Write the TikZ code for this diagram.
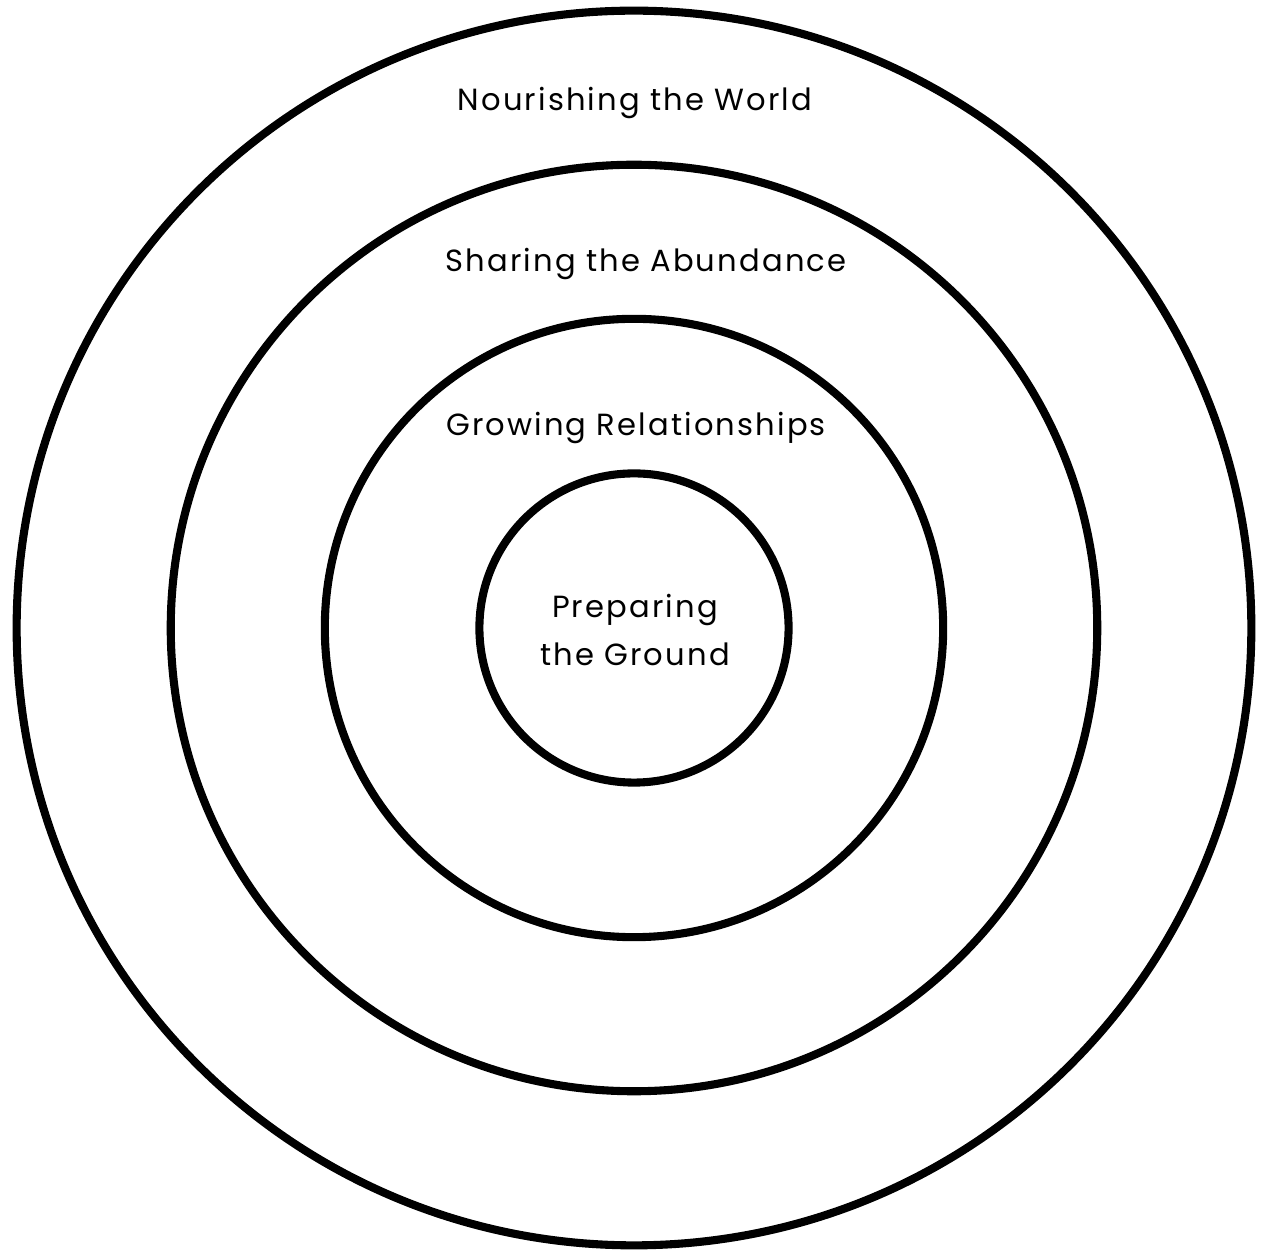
\documentclass[tikz,border=0pt]{standalone}
\usepackage{fontspec}
\setmainfont[LetterSpace=7]{Poppins}
\usetikzlibrary{positioning}
\tikzset{
  ring/.style={draw, circle, line width=2.3pt, minimum size=#1, inner sep=0pt},
  lbl/.style={font=\fontsize{8.7}{13.4}\selectfont, align=center, inner sep=0pt},
}

\begin{document}
\begin{tikzpicture}[x=0.01cm, y=-0.01cm]
    \useasboundingbox (0,0) rectangle (1262,1255);
    \coordinate (o) at (634,628);
    \node[ring=12.34cm] (world) at (o) {};
    \node[ring=9.26cm] (share) at (o) {};
    \node[ring=6.18cm] (grow) at (o) {};
    \node[ring=3.09cm] (ground) at (o) {};
    \node[lbl] (tworld) at (635,103) {Nourishing the World};
    \node[lbl] (tshare) at (646,264) {Sharing the Abundance};
    \node[lbl] (tgrow) at (636,428) {Growing Relationships};
    \node[lbl] (tground) at (635,630) {Preparing\\the Ground};
  \end{tikzpicture}
\end{document}
